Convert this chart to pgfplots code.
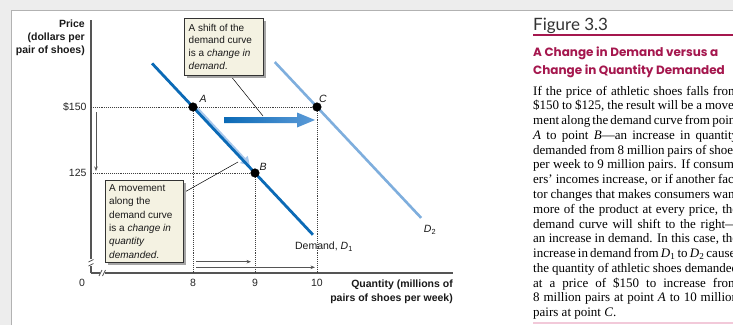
\documentclass[border=0pt]{standalone}
\usepackage{pgfplots}
\pgfplotsset{compat=1.18}
\usepackage{fontspec}
\setmainfont{Liberation Sans}
\newfontfamily\serifbody{Liberation Serif}
\newfontfamily\figfont{Lato}
\newfontfamily\titlefont{Poppins}
\usetikzlibrary{arrows.meta}
\definecolor{dOne}{HTML}{0B6AB6}
\definecolor{dTwo}{HTML}{7EAEDD}
\definecolor{arrowlight}{HTML}{5C9BD8}
\definecolor{bandlight}{HTML}{A9C8EC}
\definecolor{boxfill}{HTML}{F4F2E2}
\definecolor{mag}{HTML}{A5174E}
\definecolor{pinkline}{HTML}{F2C9D9}
\definecolor{axisgray}{HTML}{555555}
\def\px#1#2{(#1,325-#2)}
\tikzset{dotline/.style={black!75, line width=0.6pt, dash pattern=on 0.6pt off 1.3pt}}
\newcommand\bl[2]{\node[anchor=base west, inner sep=0pt, font=\serifbody\fontsize{13}{15}\selectfont] at (533,{325-(95+(#1-1)*14.78)}) {\makebox[205pt][s]{#2}};}
\begin{document}
\begin{tikzpicture}[x=1pt,y=1pt]
\useasboundingbox (0,0) rectangle (733,325);
\clip (0,0) rectangle (733,325);
\fill[white] (0,0) rectangle (733,325);
% frame bands
\fill[black!7] (0,315) rectangle (733,325);
\fill[black!7] (0,0) rectangle (11,325);
\draw[black!30, line width=0.8pt] (11,0) -- (11,315) -- (733,315);
% light movement arrow along D1 (under D1)
\draw[-{Triangle[length=9pt,width=10pt]}, line width=4pt, bandlight] \px{196.5}{108.5} -- \px{250}{166};
\begin{axis}[
 at={(91pt,52pt)}, anchor=south west, scale only axis,
 width=362pt, height=253pt,
 xmin=6.355, xmax=12.194, ymin=87.12, ymax=182.95,
 axis x line=bottom, axis y line=left,
 axis line style={-, draw=axisgray, line width=1.1pt},
 xtick={8,9,10}, ytick={125,150}, yticklabels={125,\$150},
 major tick length=0pt,
 ticklabel style={font=\fontsize{10.5}{12}\selectfont, text=black!85},
 xticklabel style={yshift=-2.5pt},
 yticklabel style={xshift=-1pt},
 /pgf/number format/assume math mode=true,
 clip=false,
]
\addplot[dotline] coordinates {(6.355,150) (10,150)};
\addplot[dotline] coordinates {(6.355,125) (9,125)};
\addplot[dotline] coordinates {(8,87.12) (8,150)};
\addplot[dotline] coordinates {(9,87.12) (9,125)};
\addplot[dotline] coordinates {(10,87.12) (10,150)};
\addplot[dTwo, line width=2.6pt] coordinates {(9.32,167.0) (11.68,108.0)};
\addplot[dOne, line width=2.8pt] coordinates {(7.34,166.5) (9.935,101.6)};
\addplot[only marks, mark=*, mark size=4.3pt, black] coordinates {(8,150) (9,125) (10,150)};
\end{axis}
% axis breaks
\fill[white] (88,{325-266}) rectangle (94.5,{325-259});
\draw[axisgray, line width=0.8pt] (88.5,{325-262}) -- (93.5,{325-259.5});
\draw[axisgray, line width=0.8pt] (88.5,{325-266}) -- (93.5,{325-263.5});
\fill[white] (100,{325-276}) rectangle (105,{325-270});
\draw[axisgray, line width=0.8pt] (99,{325-276}) -- (102,{325-270});
\draw[axisgray, line width=0.8pt] (102.5,{325-276}) -- (105.5,{325-270});
\node[font=\fontsize{10.5}{12}\selectfont, text=black!85] at \px{82}{283} {0};
% big shift arrow
\shade[left color=dOne, right color=arrowlight] \px{224}{117} -- \px{297}{117} -- \px{297}{112.5} -- \px{315}{120} -- \px{297}{127.5} -- \px{297}{123} -- \px{224}{123} -- cycle;
% small movement arrows
\draw[-{Stealth[length=4.5pt,width=3.5pt]}, axisgray, line width=0.7pt] \px{96}{112} -- \px{96}{171};
\draw[-{Stealth[length=4.5pt,width=3.5pt]}, axisgray, line width=0.7pt] \px{196}{261.7} -- \px{251}{261.7};
\draw[-{Stealth[length=4.5pt,width=3.5pt]}, axisgray, line width=0.7pt] \px{196}{267.3} -- \px{315}{267.3};
% leader lines
\draw[black, line width=0.5pt] \px{230}{75} -- \px{263}{116};
\draw[black, line width=0.5pt] \px{183}{193} -- \px{238}{162};
% boxes
\fill[black!35] \px{186.5}{20.5} rectangle \px{265.5}{77.5};
\filldraw[fill=boxfill, draw=black!80, line width=0.7pt] \px{184}{18} rectangle \px{263}{75};
\begin{scope}[every node/.style={anchor=base west, inner sep=0pt, font=\fontsize{10}{12}\selectfont, text=black!90}]
\node at \px{188.5}{31} {A shift of the};
\node at \px{188.5}{43.8} {demand curve};
\node at \px{188.5}{56.6} {is a \textit{change in}};
\node at \px{188.5}{69.4} {\textit{demand}.};
\end{scope}
\fill[black!35] \px{107.5}{182.5} rectangle \px{185.5}{264.5};
\filldraw[fill=boxfill, draw=black!80, line width=0.7pt] \px{105}{180} rectangle \px{183}{262};
\begin{scope}[every node/.style={anchor=base west, inner sep=0pt, font=\fontsize{10}{12}\selectfont, text=black!90}]
\node at \px{109}{191.5} {A movement};
\node at \px{109}{204.8} {along the};
\node at \px{109}{218.1} {demand curve};
\node at \px{109}{231.4} {is a \textit{change in}};
\node at \px{109}{244.7} {\textit{quantity}};
\node at \px{109}{258} {\textit{demanded}.};
\end{scope}
% point labels
\begin{scope}[every node/.style={inner sep=0pt, font=\fontsize{10.5}{12}\selectfont, text=black!90}]
\node at \px{203}{99} {\textit{A}};
\node at \px{263}{167} {\textit{B}};
\node at \px{323}{99} {\textit{C}};
\node at \px{324}{247} {Demand, \textit{D}\textsubscript{1}};
\node at \px{430}{230} {\textit{D}\textsubscript{2}};
\end{scope}
% axis titles
\begin{scope}[every node/.style={anchor=base east, inner sep=0pt, font=\bfseries\fontsize{10.5}{12}\selectfont, text=black!90}]
\node at \px{85}{27.8} {Price};
\node at \px{85}{40.8} {(dollars per};
\node at \px{85}{53.8} {pair of shoes)};
\node at \px{453}{287} {Quantity (millions of};
\node at \px{453}{301.5} {pairs of shoes per week)};
\end{scope}
% right panel
\node[anchor=base west, inner sep=0pt, font=\figfont\fontsize{17}{20}\selectfont, text=black!80] at \px{533}{30} {Figure 3.3};
\draw[mag, line width=1.3pt] \px{533}{35} -- \px{740}{35};
\node[anchor=base west, inner sep=0pt, font=\titlefont\bfseries\fontsize{12}{14}\selectfont, text=mag] at \px{533}{56} {A Change in Demand versus a};
\node[anchor=base west, inner sep=0pt, font=\titlefont\bfseries\fontsize{12}{14}\selectfont, text=mag] at \px{533}{74} {Change in Quantity Demanded};
\bl{1}{If the price of athletic shoes falls from}
\bl{2}{\$150 to \$125, the result will be a move-}
\bl{3}{ment along the demand curve from point}
\bl{4}{\textit{A} to point \textit{B}—an increase in quantity}
\bl{5}{demanded from 8 million pairs of shoes}
\bl{6}{per week to 9 million pairs. If consum-}
\bl{7}{ers’ incomes increase, or if another fac-}
\bl{8}{tor changes that makes consumers want}
\bl{9}{more of the product at every price, the}
\bl{10}{demand curve will shift to the right—}
\bl{11}{an increase in demand. In this case, the}
\bl{12}{increase in demand from \textit{D}\textsubscript{1} to \textit{D}\textsubscript{2} causes}
\bl{13}{the quantity of athletic shoes demanded}
\bl{14}{at a price of \$150 to increase from}
\bl{15}{8 million pairs at point \textit{A} to 10 million}
\node[anchor=base west, inner sep=0pt, font=\serifbody\fontsize{13}{15}\selectfont] at (533,{325-(95+15*14.78)}) {pairs at point \textit{C}.};
\draw[pinkline, line width=1.5pt] \px{533}{323} -- \px{740}{323};
\end{tikzpicture}
\end{document}
